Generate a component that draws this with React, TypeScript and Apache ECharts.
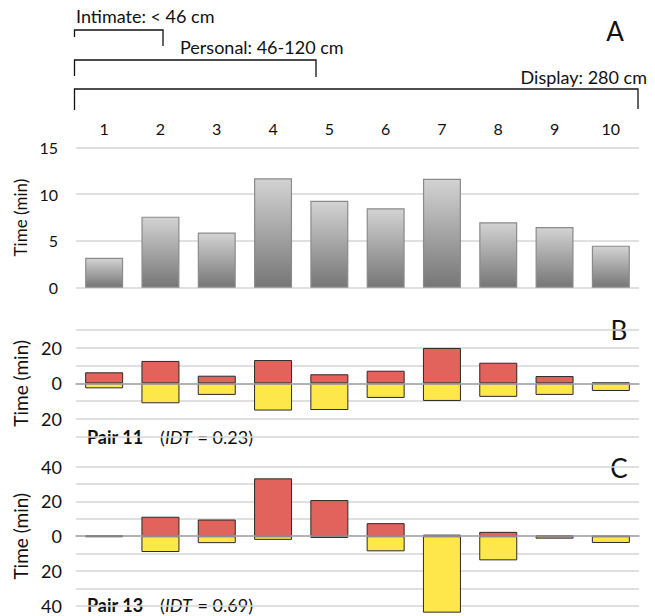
import React, { useEffect, useRef } from "react";
import * as echarts from "echarts";

const categories = ["1", "2", "3", "4", "5", "6", "7", "8", "9", "10"];
const timeA = [3.2, 7.6, 5.9, 11.7, 9.3, 8.5, 11.65, 7.0, 6.5, 4.5];
const pair11Red = [6.2, 12.6, 4.3, 13.1, 5.1, 7.1, 19.9, 11.6, 4.1, 0.4];
const pair11Yellow = [-2.8, -11.2, -6.5, -15.3, -15.0, -8.2, -9.9, -7.6, -6.5, -4.3];
const pair13Red = [0.5, 11.2, 9.6, 33.3, 20.8, 7.5, 0.9, 2.5, 0.6, 0];
const pair13Yellow = [-0.5, -9.1, -4.0, -2.1, -1.0, -8.7, -44, -13.9, -1.4, -3.9];
const ticksB = [-20, 0, 20];
const ticksC = [-40, -20, 0, 20, 40];

const FONT = "Lato, 'Noto Sans', sans-serif";
const TXT = "#111";
const GRID_LINE = "#d6d6d6";
const RED = "#e2625c";
const YELLOW = "#fee74a";

export default function App() {
  const ref = useRef<HTMLDivElement>(null);
  useEffect(() => {
    if (!ref.current) return;
    const chart = echarts.init(ref.current, undefined, { renderer: "svg" });
    const yName = (size: number, gap: number) => ({
      name: "Time (min)",
      nameLocation: "middle" as const,
      nameGap: gap,
      nameTextStyle: { fontFamily: FONT, fontSize: size, color: TXT },
    });
    const bracket = (x1: number, x2: number, top: number, l1: number, l2: number) => ({
      type: "polyline",
      shape: { points: [[x1, l1], [x1, top], [x2, top], [x2, l2]] },
      style: { stroke: "#111", lineWidth: 1.3, fill: null },
    });
    const txt = (
      text: string,
      x: number,
      y: number,
      size: number,
      align: string = "left",
      extra: Record<string, any> = {}
    ) => ({
      type: "text",
      x,
      y,
      style: { text, fontFamily: FONT, fontSize: size, fill: TXT, align, verticalAlign: "middle", ...extra },
    });
    const pairLabel = (name: string, idt: string, y: number) => [
      txt(name, 87, y, 18, "left", { fontWeight: "bold" }),
      txt("(", 160, y, 18),
      txt("IDT", 165, y, 18, "left", { fontStyle: "italic" }),
      txt(`= ${idt})`, 253, y, 18, "right"),
    ];
    const barBorder = { borderColor: "#2a2a2a", borderWidth: 1 };
    const yAxisCommon = {
      type: "value" as const,
      axisLine: { show: false },
      axisTick: { show: false },
      splitLine: { lineStyle: { color: GRID_LINE, width: 1.5 } },
    };
    chart.setOption({
      animation: false,
      grid: [
        { left: 76, right: 16, top: 147.5, height: 140.2 },
        { left: 76, right: 16, top: 330, height: 106.7 },
        { left: 76, right: 16, top: 466.7, height: 139 },
      ],
      xAxis: [
        {
          type: "category",
          gridIndex: 0,
          data: categories,
          position: "top",
          axisLine: { show: false, onZero: false },
          axisTick: { show: false },
          axisLabel: { fontFamily: FONT, fontSize: 16, color: TXT, margin: 11 },
        },
        {
          type: "category",
          gridIndex: 1,
          data: categories,
          z: 5,
          axisLine: { onZero: true, lineStyle: { color: "#a3a3a3", width: 1.5 } },
          axisTick: { show: false },
          axisLabel: { show: false },
        },
        {
          type: "category",
          gridIndex: 2,
          data: categories,
          z: 5,
          axisLine: { onZero: true, lineStyle: { color: "#a3a3a3", width: 1.5 } },
          axisTick: { show: false },
          axisLabel: { show: false },
        },
      ],
      yAxis: [
        {
          ...yAxisCommon,
          gridIndex: 0,
          min: 0,
          max: 15,
          interval: 5,
          ...yName(17, 43),
          axisLabel: { fontFamily: FONT, fontSize: 16, color: TXT, margin: 18 },
        },
        {
          ...yAxisCommon,
          gridIndex: 1,
          min: -30,
          max: 30,
          interval: 10,
          ...yName(19, 42),
          axisLabel: {
            fontFamily: FONT,
            fontSize: 18,
            color: TXT,
            margin: 14,
            formatter: (v: number) => (ticksB.includes(v) ? String(Math.abs(v)) : ""),
          },
        },
        {
          ...yAxisCommon,
          gridIndex: 2,
          min: -40,
          max: 40,
          interval: 10,
          ...yName(19, 42),
          axisLabel: {
            fontFamily: FONT,
            fontSize: 18,
            color: TXT,
            margin: 14,
            formatter: (v: number) => (ticksC.includes(v) ? String(Math.abs(v)) : ""),
          },
        },
      ],
      series: [
        {
          type: "bar",
          xAxisIndex: 0,
          yAxisIndex: 0,
          data: timeA,
          barWidth: 38,
          itemStyle: {
            color: new echarts.graphic.LinearGradient(0, 0, 0, 1, [
              { offset: 0, color: "#d3d3d3" },
              { offset: 1, color: "#767676" },
            ]),
            borderColor: "#8a8a8a",
            borderWidth: 1.2,
          },
        },
        {
          type: "bar",
          xAxisIndex: 1,
          yAxisIndex: 1,
          data: pair11Red,
          barWidth: 38,
          barGap: "-100%",
          itemStyle: { color: RED, ...barBorder },
        },
        {
          type: "bar",
          xAxisIndex: 1,
          yAxisIndex: 1,
          data: pair11Yellow,
          barWidth: 38,
          barGap: "-100%",
          itemStyle: { color: YELLOW, ...barBorder },
        },
        {
          type: "bar",
          xAxisIndex: 2,
          yAxisIndex: 2,
          data: pair13Red,
          barWidth: 38,
          barGap: "-100%",
          clip: false,
          itemStyle: { color: RED, ...barBorder },
        },
        {
          type: "bar",
          xAxisIndex: 2,
          yAxisIndex: 2,
          data: pair13Yellow,
          barWidth: 38,
          barGap: "-100%",
          clip: false,
          itemStyle: { color: YELLOW, ...barBorder },
        },
      ],
      graphic: [
        txt("Intimate: < 46 cm", 76, 16, 18),
        bracket(74.5, 163, 30, 37, 46),
        txt("Personal: 46-120 cm", 180, 47, 18),
        bracket(74.5, 316, 60, 76, 77),
        txt("Display: 280 cm", 647, 77, 18, "right"),
        bracket(74.5, 638, 89, 110, 109),
        txt("A", 615, 31, 26, "center"),
        txt("B", 619, 330, 26, "center"),
        txt("C", 619, 468, 26, "center"),
        ...pairLabel("Pair 11", "0.23", 437),
        ...pairLabel("Pair 13", "0.69", 605),
      ],
    });
    return () => chart.dispose();
  }, []);
  return (
    <div
      ref={ref}
      style={{ position: "fixed", left: 0, top: 0, width: 655, height: 616, background: "#fff" }}
    />
  );
}
